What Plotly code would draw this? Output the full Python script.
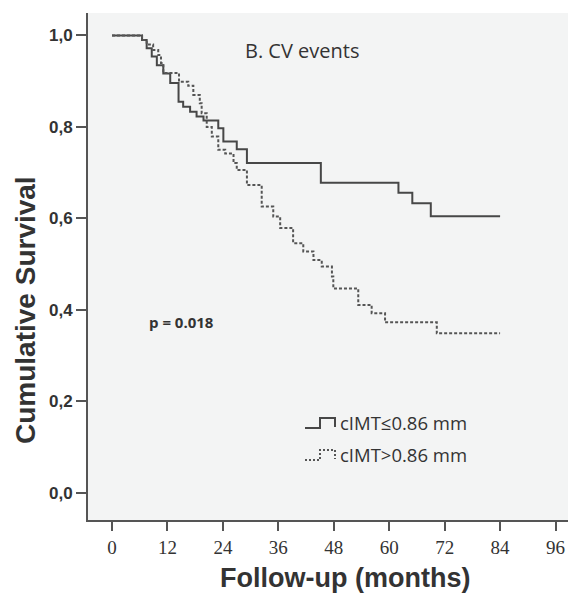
import plotly.graph_objects as go

# Kaplan-Meier step data (months, cumulative survival)
low_t = [0, 6.5, 7.5, 8.6, 9.7, 11.1, 12.6, 14.4, 15.4, 16.9, 18.3, 19.8, 23.0, 24.1, 27.0, 29.2, 45.2, 62.0, 65.0, 69.0, 84.0]
low_s = [1.0, 0.99, 0.972, 0.954, 0.935, 0.917, 0.896, 0.855, 0.844, 0.833, 0.823, 0.814, 0.797, 0.768, 0.751, 0.721, 0.678, 0.656, 0.633, 0.605, 0.605]

high_t = [0, 6.5, 7.5, 8.9, 10.0, 10.6, 11.1, 14.5, 16.5, 17.6, 19.0, 19.4, 20.5, 21.6, 23.0, 24.5, 26.3, 27.0, 29.2, 32.4, 34.9, 36.4,
          39.2, 41.4, 43.6, 45.4, 47.6, 47.9, 53.3, 56.2, 59.1, 70.3, 84.0]
high_s = [1.0, 0.99, 0.98, 0.968, 0.957, 0.94, 0.918, 0.899, 0.89, 0.870, 0.852, 0.830, 0.80, 0.779, 0.75, 0.742, 0.721, 0.706, 0.673, 0.626, 0.604, 0.579,
          0.546, 0.528, 0.509, 0.495, 0.473, 0.447, 0.411, 0.393, 0.373, 0.349, 0.349]

x_ticks = [0, 12, 24, 36, 48, 60, 72, 84, 96]
y_ticks = [0.0, 0.2, 0.4, 0.6, 0.8, 1.0]
y_tick_labels = ["0,0", "0,2", "0,4", "0,6", "0,8", "1,0"]

labels = ["cIMT≤0.86 mm", "cIMT>0.86 mm"]

LINE = "#474747"
TXT = "#333333"

fig = go.Figure()
fig.add_trace(go.Scatter(x=low_t, y=low_s, mode="lines", line=dict(shape="hv", color=LINE, width=2),
                         name=labels[0], showlegend=False, hoverinfo="skip"))
fig.add_trace(go.Scatter(x=high_t, y=high_s, mode="lines", line=dict(shape="hv", color="#555555", width=2, dash="3px,2px"),
                         name=labels[1], showlegend=False, hoverinfo="skip"))

# page has an 8px body margin; figure sized to fit the window
OFF = 8
W, H = 579 - OFF, 595 - OFF
L, T = 88 - OFF, 13 - OFF
R = W - (568 - OFF)
B = H - (520 - OFF)
pw, ph = W - L - R, H - T - B

def px(x):
    return (x - OFF - L) / pw

def py(y):
    return 1 - (y - OFF - T) / ph

shapes = []
# legend glyphs (step symbols)
shapes.append(dict(type="path", xref="paper", yref="paper",
                   path=f"M {px(305)} {py(428)} L {px(320)} {py(428)} L {px(320)} {py(418)} L {px(335)} {py(418)} L {px(335)} {py(427)}",
                   line=dict(color=LINE, width=2)))
shapes.append(dict(type="path", xref="paper", yref="paper",
                   path=f"M {px(305)} {py(460)} L {px(320)} {py(460)} L {px(320)} {py(450)} L {px(335)} {py(450)} L {px(335)} {py(459)}",
                   line=dict(color="#555555", width=2, dash="2px,2px")))

annotations = [
    dict(text="B. CV events", x=px(302), y=py(51), xref="paper", yref="paper", showarrow=False,
         font=dict(family="Open Sans", size=20, color=TXT), xanchor="center", yanchor="middle"),
    dict(text="<b>p = 0.018</b>", x=px(147), y=py(322), xref="paper", yref="paper", showarrow=False,
         font=dict(family="Open Sans", size=15, color=TXT), xanchor="left", yanchor="middle"),
    dict(text=labels[0], x=px(338), y=py(422), xref="paper", yref="paper", showarrow=False,
         font=dict(family="Open Sans", size=18.5, color=TXT), xanchor="left", yanchor="middle"),
    dict(text=labels[1], x=px(338), y=py(454), xref="paper", yref="paper", showarrow=False,
         font=dict(family="Open Sans", size=18.5, color=TXT), xanchor="left", yanchor="middle"),
    dict(text="<b>Follow-up (months)</b>", x=px(345), y=py(578), xref="paper", yref="paper", showarrow=False,
         font=dict(family="Arial", size=27, color=TXT), xanchor="center", yanchor="middle"),
    dict(text="<b>Cumulative Survival</b>", x=px(25), y=py(310), xref="paper", yref="paper", showarrow=False,
         textangle=-90, font=dict(family="Arial", size=28, color=TXT), xanchor="center", yanchor="middle"),
]

fig.update_layout(
    width=W, height=H,
    margin=dict(l=L, r=R, t=T, b=B),
    paper_bgcolor="white",
    plot_bgcolor="#f3f4f4",
    shapes=shapes,
    annotations=annotations,
    xaxis=dict(range=[-5.2, 98.7], tickvals=x_ticks, ticktext=[str(v) for v in x_ticks],
               showgrid=False, zeroline=False, showline=True, linecolor="#555555", linewidth=2,
               ticks="outside", ticklen=9, tickwidth=2, tickcolor="#555555", automargin=False,
               tickfont=dict(family="Liberation Serif, Times New Roman, serif", size=19, color=TXT)),
    yaxis=dict(range=[-0.059, 1.049], tickvals=y_ticks, ticktext=["<b>%s</b>" % t for t in y_tick_labels],
               showgrid=False, zeroline=False, showline=True, linecolor="#555555", linewidth=2,
               ticks="outside", ticklen=10, tickwidth=2, tickcolor="#555555", automargin=False,
               tickfont=dict(family="Arial", size=17, color=TXT)),
)

fig.write_html("out.html")
